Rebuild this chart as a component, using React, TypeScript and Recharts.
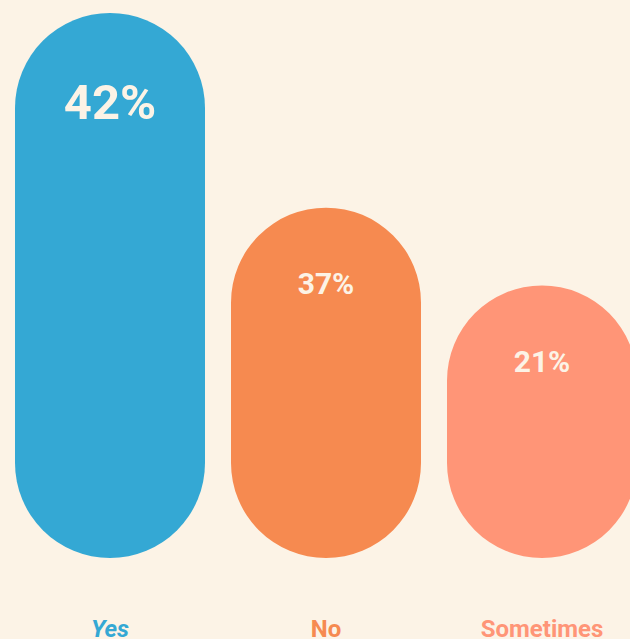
import { Bar, BarChart, Cell, LabelList, XAxis, YAxis } from "recharts";

// answer categories
const categories = ["Yes", "No", "Sometimes"];
// bar lengths as drawn in the picture (percent points)
const barValues = [42, 27, 21];
// percentages printed inside the bars
const shownLabels = ["42%", "37%", "21%"];

const COLORS = ["#34a8d4", "#f68a50", "#ff9577"];
const BG = "#fcf3e6";

const chartData = categories.map((name, i) => ({
  name,
  value: barValues[i],
  label: shownLabels[i],
}));

function InnerLabel(props: any) {
  const { x, y, width, index, value } = props;
  const big = index === 0;
  return (
    <text
      x={x + width / 2}
      y={y + (big ? 106 : 86)}
      textAnchor="middle"
      fill={BG}
      fontFamily="Roboto, sans-serif"
      fontWeight={700}
      fontSize={big ? 49 : 30}
    >
      {value}
    </text>
  );
}

function CategoryTick(props: any) {
  const { x, y, payload, index } = props;
  return (
    <text
      x={x}
      y={y + 79}
      textAnchor="middle"
      fill={COLORS[index % COLORS.length]}
      fontFamily="Roboto, sans-serif"
      fontWeight={700}
      fontStyle={index === 0 ? "italic" : "normal"}
      fontSize={24}
    >
      {payload.value}
    </text>
  );
}

export default function App() {
  return (
    <div
      style={{
        position: "absolute",
        left: 0,
        top: 0,
        width: 630,
        height: 639,
        overflow: "hidden",
        background: BG,
      }}
    >
      <BarChart
        width={650}
        height={639}
        data={chartData}
        margin={{ top: 13, right: 0, left: 2, bottom: 0 }}
        barCategoryGap={13}
      >
        <XAxis
          dataKey="name"
          axisLine={false}
          tickLine={false}
          tickSize={0}
          tickMargin={0}
          height={81}
          interval={0}
          tick={<CategoryTick />}
        />
        <YAxis hide domain={[0, 42]} />
        <Bar dataKey="value" radius={95} isAnimationActive={false}>
          {chartData.map((_, idx) => (
            <Cell key={idx} fill={COLORS[idx % COLORS.length]} />
          ))}
          <LabelList dataKey="label" content={<InnerLabel />} />
        </Bar>
      </BarChart>
    </div>
  );
}
